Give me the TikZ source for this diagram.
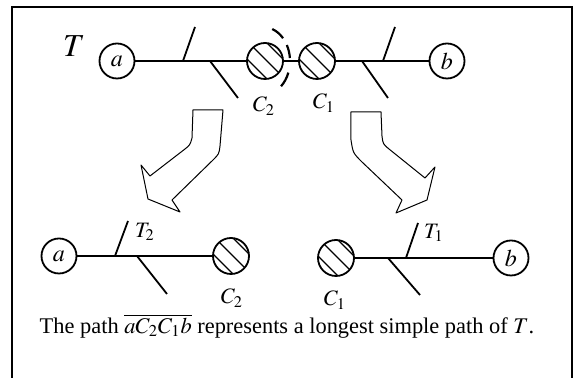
\documentclass[tikz,border=0pt]{standalone}
\usepackage{mathptmx}
\usepackage[no-math]{fontspec}
\setmainfont{Liberation Serif}
\usetikzlibrary{calc}

\begin{document}
\begin{tikzpicture}[x=0.5pt, y=-0.5pt]

    % Define styles for the nodes
    \tikzstyle{leaf} = [
        circle, draw=black, line width=0.9pt, inner sep=0pt,
        minimum size=17.5pt, font=\fontsize{12}{13}\selectfont
    ]
    \tikzstyle{comp} = [
        circle, draw=black, line width=0.9pt, inner sep=0pt,
        minimum size=18pt, path picture={
            \foreach \d in {-4,0.5,5}
                \draw [line width=0.55pt]
                    ($(path picture bounding box.center)+(\d pt,\d pt)+(-12pt,12pt)$) --
                    ($(path picture bounding box.center)+(\d pt,\d pt)+(12pt,-12pt)$);
        }
    ]
    \tikzstyle{lbl} = [inner sep=0pt, font=\fontsize{11}{13}\selectfont]
    \tikzstyle{edge} = [line width=0.9pt]
    \tikzstyle{bigarrow} = [draw=black, line width=0.5pt, line join=round]

    \useasboundingbox (0,0) rectangle (575,378);

    % Frame
    \draw [line width=1pt] (12,378) -- (12,7) -- (572,7) -- (572,378);

    % Tree T
    \node (T) [font=\fontsize{16}{18}\selectfont] at (74,46) {$T$};
    \node (a) [leaf] at (117,61) {$a$};
    \node (c2) [comp] at (265,61) {};
    \node (c1) [comp] at (317,61) {};
    \node (b) [leaf] at (447,61) {$b$};
    \node (c2lbl) [lbl] at (264,106) {$C_2$};
    \node (c1lbl) [lbl] at (324,103) {$C_1$};

    \coordinate (up1) at (183,61);
    \coordinate (up1end) at (195,27);
    \coordinate (dn1) at (210,61);
    \coordinate (dn1end) at (238,98);
    \coordinate (dn2) at (362,61);
    \coordinate (dn2end) at (388,98);
    \coordinate (up2) at (383,61);
    \coordinate (up2end) at (395,27);

    \draw [edge] (a) -- (c2);
    \draw [edge] (c2) -- (c1);
    \draw [edge] (c1) -- (b);
    \draw [edge] (up1) -- (up1end);
    \draw [edge] (dn1) -- (dn1end);
    \draw [edge] (dn2) -- (dn2end);
    \draw [edge] (up2) -- (up2end);

    % Cut round C2
    \foreach \s/\e in {-70/-42, -28/-5, 20/48}
        \draw [line width=1.1pt] (c2.center) ++(-2,0) ++(\s:27 and 34)
            arc [start angle=\s, end angle=\e, x radius=27, y radius=34];

    % Arrows
    \draw [bigarrow] (193,110) -- (192,138) .. controls (190,145) .. (185,149)
        -- (150,176) -- (141,165) -- (148,199) -- (180,212) -- (172,200)
        -- (213,160) .. controls (219,154) .. (220,146) -- (223,110) -- cycle;
    \draw [bigarrow] (351,112) -- (351,140) .. controls (353,153) .. (362,162)
        -- (402,200) -- (396,213) -- (427,200) -- (435,167) -- (425,178)
        -- (389,149) .. controls (383,144) .. (382,136) -- (381,112) -- cycle;

    % Tree T2
    \node (a2) [leaf] at (59,256) {$a$};
    \node (c2b) [comp] at (231,256) {};
    \node (T2) [lbl] at (145,232) {$T_2$};
    \node (c2blbl) [lbl] at (232,298) {$C_2$};

    \coordinate (up3) at (115,256);
    \coordinate (up3end) at (128,221);
    \coordinate (dn3) at (137,256);
    \coordinate (dn3end) at (167,294);

    \draw [edge] (a2) -- (c2b);
    \draw [edge] (up3) -- (up3end);
    \draw [edge] (dn3) -- (dn3end);

    % Tree T1
    \node (c1b) [comp] at (336,258) {};
    \node (b2) [leaf] at (511,258) {$b$};
    \node (T1) [lbl] at (434,233) {$T_1$};
    \node (c1blbl) [lbl] at (335,300) {$C_1$};

    \coordinate (dn4) at (388,258);
    \coordinate (dn4end) at (420,295);
    \coordinate (up4) at (406,258);
    \coordinate (up4end) at (418,223);

    \draw [edge] (c1b) -- (b2);
    \draw [edge] (dn4) -- (dn4end);
    \draw [edge] (up4) -- (up4end);

    % Caption
    \node (caption) [font=\fontsize{11.2}{13}\selectfont] at (287,326)
        {The path $\overline{aC_2C_1b}$ represents a longest simple path of $T$.};

\end{tikzpicture}
\end{document}
